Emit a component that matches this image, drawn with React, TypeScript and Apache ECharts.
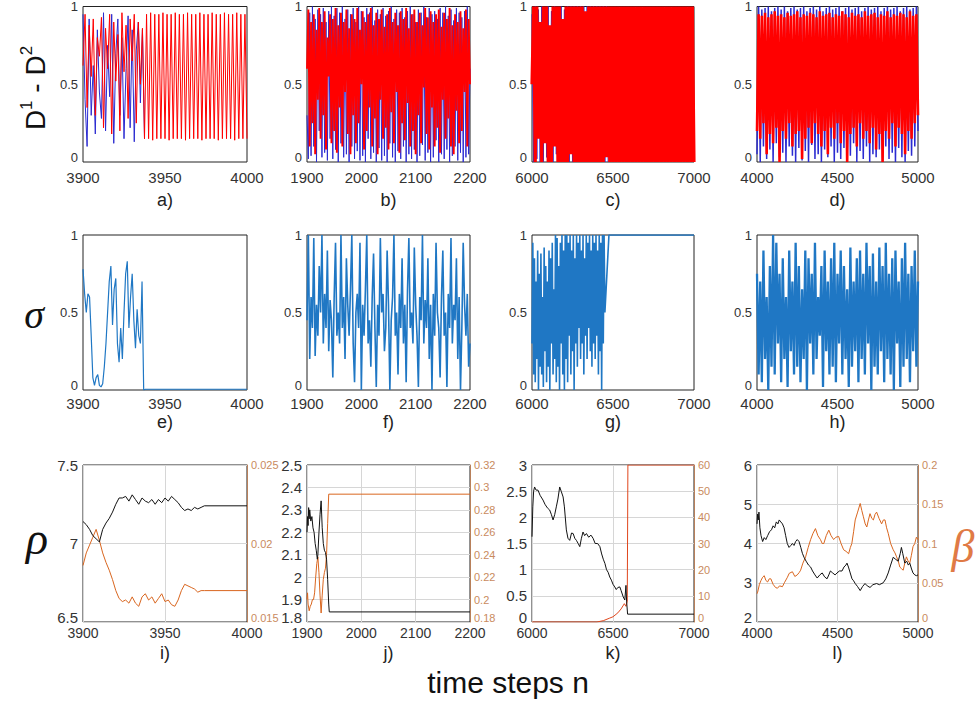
import React, { useEffect, useRef } from "react";
import * as echarts from "echarts";

// ---------- Row 1: D1 (blue) and D2 (red) ----------
// a) 3900..4000, sampled every 1.25 steps
const aBlue = [0.95,0.4,0.1,0.92,0.3,0.62,0.18,0.85,0.45,0.28,0.96,0.2,0.75,0.42,0.95,0.12,0.7,0.92,0.3,0.8,0.15,0.6,0.94,0.22,0.85,0.13,0.72,0.9,0.38,0.85,0.15];
const aRed = [0.62,0.95,0.35,0.88,0.55,0.92,0.3,0.8,0.68,0.93,0.22,0.86,0.6,0.95,0.18,0.9,0.52,0.82,0.2,0.96,0.58,0.88,0.28,0.92,0.65,0.95,0.25,0.9,0.5,0.86,
  0.15,0.95,0.15,0.96,0.14,0.95,0.15,0.95,0.15,0.96,0.15,0.95,0.14,0.95,0.15,0.96,0.15,0.95,0.15,0.95,
  0.14,0.96,0.15,0.95,0.15,0.95,0.15,0.96,0.14,0.95,0.15,0.95,0.15,0.96,0.15,0.95,0.14,0.95,0.15,0.96,
  0.15,0.95,0.15,0.95,0.14,0.96,0.15,0.95,0.15,0.95,0.15];
// b) 1900..2200, every 2.5 steps
const bBlue = [0.3,0.02,0.96,0.04,1.0,0.1,0.92,0.0,0.98,0.2,0.95,0.03,0.99,0.06,0.9,0.01,0.97,0.15,1.0,0.02,
  0.94,0.08,0.99,0.0,0.96,0.12,1.0,0.03,0.92,0.05,0.98,0.0,0.95,0.1,0.99,0.02,0.9,0.07,1.0,0.01,
  0.97,0.04,0.93,0.0,0.99,0.15,0.96,0.02,1.0,0.06,0.91,0.0,0.98,0.09,0.95,0.01,0.99,0.04,0.94,0.0,
  0.97,0.12,1.0,0.03,0.92,0.0,0.98,0.07,0.96,0.02,0.99,0.1,0.93,0.0,0.97,0.05,1.0,0.02,0.95,0.08,
  0.9,0.0,0.98,0.04,0.96,0.11,1.0,0.01,0.93,0.06,0.99,0.0,0.95,0.03,0.97,0.14,0.92,0.0,0.99,0.05,
  0.96,0.02,1.0,0.08,0.94,0.0,0.98,0.04,0.91,0.1,0.99,0.01,0.96,0.06,0.93,0.0,0.97,0.03,1.0,0.05,0.6];
const bRed = [0.6,0.98,0.1,0.9,0.25,0.95,0.05,0.85,0.4,0.99,0.15,0.9,0.3,0.97,0.08,0.8,0.55,0.95,0.12,0.92,
  0.2,0.99,0.06,0.88,0.35,0.96,0.1,0.9,0.45,0.98,0.18,0.86,0.05,0.95,0.3,0.92,0.12,0.99,0.25,0.85,
  0.5,0.97,0.08,0.9,0.2,0.95,0.35,0.99,0.1,0.88,0.28,0.96,0.05,0.92,0.4,0.98,0.15,0.87,0.22,0.95,
  0.08,0.99,0.32,0.9,0.12,0.96,0.45,0.88,0.06,0.97,0.25,0.92,0.14,0.99,0.38,0.86,0.1,0.95,0.2,0.98,
  0.05,0.9,0.3,0.96,0.12,0.88,0.48,0.99,0.18,0.93,0.08,0.97,0.35,0.9,0.1,0.95,0.22,0.98,0.06,0.87,
  0.4,0.96,0.15,0.92,0.28,0.99,0.1,0.88,0.05,0.95,0.33,0.9,0.12,0.97,0.2,0.86,0.45,0.98,0.1,0.92,0.5];
// c) 6000..7000, every 10 steps
const cBlue = [0.95,0,1,0.02,0.98,0,1,0,0.96,0.03,1,0,0.97,0,1,0.05,0.99,0,1,0,
  0.98,0,1,0,1,0,1,0,1,0,1,0,1,0,1,0,1,0,1,0,1,0,1,0,1,0,1,0];
const cRed = [0.5,1,0,1,0.15,0.9,0,1,0.12,1,0,0.88,0,1,0.1,1,0,1,0,0.92,
  0,1,0,1,0.05,1,0,1,0,1,0,1,0,0.97,0,1,0,1,0,1,
  0,1,0,1,0,1,0.03,1,0,1,0,1,0,1,0,1,0,1,0,1,
  0,1,0,1,0,1,0,1,0,1,0,1,0,1,0,1,0,1,0,1,
  0,1,0,1,0,1,0,1,0,1,0,1,0,1,0,1,0,1,0,1,0];
// d) 4000..5000, every 10 steps
const dBlue = [0.05,1.0,0.0,0.98,0.1,0.99,0.02,1.0,0.08,0.97,0.0,0.99,0.12,1.0,0.03,0.98,0.06,1.0,0.0,0.97,
  0.1,0.99,0.04,1.0,0.0,0.98,0.09,0.99,0.01,1.0,0.07,0.97,0.0,0.99,0.11,1.0,0.02,0.98,0.05,1.0,
  0.0,0.97,0.08,0.99,0.03,1.0,0.1,0.98,0.0,0.99,0.06,1.0,0.02,0.97,0.09,0.99,0.0,1.0,0.04,0.98,
  0.12,0.99,0.0,1.0,0.07,0.97,0.02,0.99,0.1,1.0,0.0,0.98,0.05,0.99,0.03,1.0,0.08,0.97,0.0,0.99,
  0.1,1.0,0.02,0.98,0.06,0.99,0.0,1.0,0.09,0.97,0.03,0.99,0.0,1.0,0.07,0.98,0.04,0.99,0.1,1.0,0.2];
const dRed = [0.2,0.95,0.15,0.94,0.25,0.96,0.05,0.93,0.18,0.95,0.12,0.97,0.22,0.94,0.0,0.95,0.2,0.93,0.15,0.96,
  0.25,0.94,0.1,0.95,0.18,0.97,0.2,0.93,0.02,0.95,0.15,0.94,0.22,0.96,0.12,0.95,0.25,0.93,0.18,0.97,
  0.1,0.94,0.2,0.95,0.05,0.96,0.22,0.93,0.15,0.95,0.25,0.94,0.12,0.97,0.2,0.95,0.0,0.93,0.18,0.96,
  0.22,0.94,0.1,0.95,0.25,0.93,0.15,0.97,0.2,0.94,0.12,0.95,0.22,0.96,0.08,0.93,0.18,0.95,0.0,0.94,
  0.2,0.97,0.15,0.93,0.25,0.95,0.1,0.94,0.22,0.96,0.18,0.95,0.05,0.93,0.2,0.97,0.15,0.94,0.25,0.95,0.3];

// ---------- Row 2: sigma ----------
const eSigma = [0.78,0.62,0.5,0.62,0.6,0.35,0.08,0.03,0.08,0.1,0.03,0.02,0.04,0.15,0.3,0.5,0.7,0.8,0.42,0.65,
  0.72,0.3,0.18,0.4,0.2,0.5,0.75,0.83,0.4,0.6,0.75,0.45,0.27,0.52,0.35,0.3,0.7,0.0,0.005];
const eTailX = [4000];
const eTailY = [0.005];
const fSigma = [0.45,1.0,0.2,0.6,0.4,0.98,0.22,0.55,0.35,0.8,0.5,1.0,0.3,0.62,0.4,0.9,0.25,0.58,0.45,0.08,
  0.6,0.95,0.35,0.5,0.3,1.0,0.4,0.6,0.2,0.85,0.55,0.35,0.65,1.0,0.3,0.05,0.5,0.62,0.4,0.95,
  0.0,0.55,0.35,0.65,1.0,0.3,0.45,0.15,0.6,0.88,0.4,0.02,0.55,0.35,0.98,0.5,0.62,0.25,0.4,0.9,
  0.55,0.0,0.45,0.6,1.0,0.35,0.5,0.1,0.62,0.4,0.85,0.3,0.55,0.05,0.65,0.98,0.4,0.5,0.3,0.92,
  0.55,0.35,0.02,0.6,0.45,1.0,0.3,0.58,0.4,0.85,0.2,0.55,0.0,0.62,0.35,0.95,0.5,0.4,0.08,0.6,
  0.9,0.35,0.5,0.02,0.62,0.4,0.98,0.3,0.55,0.45,0.85,0.2,0.6,0.0,0.4,0.95,0.55,0.35,0.62,0.15,0.3];
const gSigma = [0.3,0.95,0.1,0.85,0.05,0.7,0.2,0.9,0.0,0.75,0.15,0.88,0.1,0.6,0.02,0.92,0.25,0.8,0.05,0.7,
  0.15,0.9,0.0,0.85,0.3,0.95,0.1,0.65,0.2,1.0,0.05,0.98,0.15,0.8,0.0,0.95,0.3,1.0,0.1,0.9,
  0.0,1.0,0.2,1.0,0.05,0.95,0.35,1.0,0.1,0.9,0.25,1.0,0.0,0.85,0.3,1.0,0.15,0.95,0.4,1.0,
  0.2,0.9,0.3,1.0,0.1,0.85,0.35,1.0,0.2,0.95,0.4,1.0,0.25,0.9,0.15,1.0,0.3,0.95,0.2,1.0,
  0.35,0.9,0.1,1.0,0.25,0.95,0.0,1.0,0.3,1.0,0.5];
const gTailX = [6475, 7000];
const gTailY = [1.0, 1.0];
const hSigma = [0.75,0.1,0.7,0.05,0.9,0.2,0.6,0.0,0.8,0.15,1.0,0.1,0.95,0.3,0.75,0.05,0.85,0.2,0.6,0.02,
  0.9,0.25,0.7,0.1,0.95,0.15,0.8,0.05,0.65,0.2,0.9,0.0,0.85,0.3,0.75,0.1,0.95,0.2,0.6,0.35,
  0.8,0.02,0.9,0.25,0.7,0.1,0.85,0.15,0.95,0.05,0.75,0.3,0.9,0.1,0.8,0.2,0.65,0.02,0.92,0.15,
  0.7,0.25,0.85,0.05,0.9,0.2,0.75,0.1,0.95,0.3,0.8,0.0,0.88,0.15,0.7,0.1,0.92,0.25,0.8,0.05,
  0.95,0.2,0.75,0.1,0.85,0.0,0.9,0.3,0.7,0.02,0.85,0.15,0.95,0.2,0.75,0.05,0.8,0.25,0.9,0.15,0.7];

// ---------- Row 3: rho (black, left) and beta (orange, right) ----------
const iX = [3900,3902,3904,3906,3908,3910,3912,3914,3916,3918,3920,3922,3924,3926,3928,3930,3932,3934,3936,3938,3940,3942,3944,3946,3948,3950,3952,3954,3956,3958,3960,3962,3964,3966,3968,3970,3972,3974,4000];
const iRho = [7.14,7.12,7.09,7.05,7.03,7.01,7.09,7.13,7.16,7.2,7.25,7.29,7.29,7.3,7.27,7.31,7.28,7.25,7.29,7.27,7.26,7.28,7.25,7.28,7.26,7.29,7.27,7.3,7.28,7.26,7.23,7.21,7.22,7.21,7.23,7.22,7.23,7.24,7.24];
const iBeta = [0.0186,0.0194,0.0199,0.0204,0.0209,0.0202,0.0194,0.0188,0.0183,0.0177,0.017,0.0165,0.0163,0.0164,0.0162,0.0166,0.0162,0.016,0.0166,0.0168,0.0164,0.0166,0.0162,0.0165,0.0168,0.0163,0.0164,0.0161,0.016,0.0164,0.017,0.0174,0.0173,0.0172,0.0171,0.0169,0.017,0.017,0.017];

const jX = [1900,1901,1902,1903,1904,1905,1907,1909,1911,1913,1915,1917,1919,1920,1922,1924,1926,1928,1930,1932,1934,1936,1938,1940,1941,2200];
const jRho = [2.2,2.27,2.23,2.31,2.26,2.3,2.25,2.27,2.22,2.2,2.15,2.12,2.08,2.1,2.2,2.28,2.34,2.22,2.15,2.12,2.11,2.08,1.99,1.88,1.845,1.845];
const jBX = [1900,1901,1902,1904,1906,1908,1910,1912,1914,1916,1918,1920,1922,1924,1926,1928,1930,1932,1934,1936,1938,1940,2200];
const jBeta = [0.2,0.206,0.196,0.19,0.194,0.196,0.2,0.2,0.206,0.22,0.232,0.238,0.224,0.204,0.188,0.204,0.218,0.224,0.228,0.24,0.268,0.294,0.294];

const kX = [6000,6005,6010,6016,6025,6037,6050,6068,6080,6095,6109,6120,6130,6140,6150,6160,6171,6180,6192,6200,6212,6222,6233,6244,6254,6264,6274,6285,6295,6305,6315,6325,6336,6350,6364,6377,6390,6405,6419,6430,6440,6450,6460,6470,6480,6490,6500,6511,6520,6530,6542,6550,6563,6573,6580,6584,6590,7000];
const kRho = [1.63,2.2,2.5,2.58,2.52,2.52,2.42,2.33,2.25,2.18,2.14,2.05,1.95,2.05,2.2,2.35,2.58,2.5,2.39,2.2,1.76,1.6,1.56,1.7,1.69,1.6,1.56,1.5,1.44,1.6,1.72,1.65,1.69,1.62,1.66,1.6,1.5,1.5,1.44,1.3,1.2,1.12,1.0,0.95,0.86,0.8,0.72,0.67,0.62,0.66,0.67,0.6,0.48,0.42,0.7,0.4,0.15,0.15];
const kBX = [6000,6400,6440,6480,6500,6530,6550,6570,6580,6588,6592,7000];
const kBeta = [0,0,0.5,1.5,2,3.5,5,7,6,8,60,60];

const lX = [4000,4004,4008,4012,4018,4025,4035,4045,4055,4066,4078,4090,4100,4110,4120,4130,4138,4148,4158,4168,4178,4188,4199,4210,4220,4230,4240,4250,4261,4272,4282,4292,4305,4320,4333,4345,4360,4374,4390,4405,4420,4435,4446,4456,4470,4485,4497,4512,4528,4540,4552,4559,4568,4579,4590,4600,4610,4625,4641,4655,4671,4685,4702,4720,4743,4760,4784,4800,4815,4830,4846,4860,4877,4890,4897,4905,4918,4930,4940,4949,4960,4969,4980,4990,5000];
const lRho = [4.5,4.75,4.6,4.8,4.4,4.2,4.05,4.15,4.1,4.2,4.3,4.35,4.45,4.4,4.55,4.5,4.6,4.55,4.5,4.4,4.2,4.0,3.9,3.95,4.0,3.95,4.05,4.1,4.05,3.9,3.75,3.65,3.55,3.45,3.4,3.3,3.2,3.12,3.2,3.25,3.15,3.1,3.2,3.3,3.25,3.2,3.25,3.3,3.3,3.4,3.45,3.5,3.4,3.25,3.1,3.05,2.98,2.9,2.8,2.9,2.98,2.92,2.88,2.95,2.98,2.95,3.0,3.1,3.25,3.45,3.65,3.6,3.55,3.75,3.9,3.75,3.5,3.55,3.45,3.5,3.35,3.25,3.2,3.18,3.2];
const lBX = [4000,4004,4015,4025,4035,4045,4055,4066,4076,4086,4100,4115,4127,4140,4158,4170,4189,4200,4220,4235,4250,4262,4271,4285,4302,4318,4333,4348,4363,4378,4394,4405,4415,4430,4446,4460,4476,4490,4507,4522,4538,4553,4569,4580,4589,4600,4610,4625,4641,4651,4661,4672,4682,4692,4702,4713,4723,4733,4743,4758,4774,4785,4795,4805,4815,4830,4846,4857,4867,4877,4887,4897,4908,4918,4928,4938,4949,4959,4969,4980,4990,5000];
const lBeta = [0.036,0.038,0.048,0.053,0.057,0.059,0.053,0.051,0.055,0.055,0.048,0.044,0.043,0.046,0.045,0.05,0.057,0.062,0.064,0.058,0.06,0.063,0.066,0.075,0.083,0.095,0.105,0.113,0.119,0.11,0.105,0.1,0.1,0.11,0.117,0.11,0.105,0.108,0.109,0.1,0.092,0.09,0.087,0.095,0.1,0.115,0.13,0.14,0.151,0.142,0.134,0.125,0.121,0.13,0.138,0.132,0.13,0.137,0.14,0.132,0.125,0.13,0.13,0.12,0.113,0.1,0.092,0.088,0.083,0.078,0.07,0.068,0.066,0.075,0.083,0.078,0.075,0.085,0.096,0.1,0.108,0.105];

// ---------- Axes ----------
const X_RANGES = [[3900, 4000, 50], [1900, 2200, 100], [6000, 7000, 500], [4000, 5000, 500]];
const RHO_RANGES = [[6.5, 7.5, 0.5], [1.8, 2.5, 0.1], [0, 3, 0.5], [2, 6, 1]];
const BETA_RANGES = [[0.015, 0.025, 0.005], [0.18, 0.32, 0.02], [0, 60, 10], [0, 0.2, 0.05]];
const PANEL_LABELS = ["a)", "b)", "c)", "d)", "e)", "f)", "g)", "h)", "i)", "j)", "k)", "l)"];

const COLS = [{ left: 83, width: 164 }, { left: 307, width: 163 }, { left: 532, width: 162 }, { left: 757, width: 161 }];
const ROWS = [{ top: 5, height: 157 }, { top: 235, height: 155 }, { top: 465, height: 157 }];
const LABEL_Y = [200, 422, 653];
const X_LABEL_MARGIN = [8, 6, 4];

const BLUE = "#2b2bd1";
const RED = "#ff0000";
const SIGMA = "#1f77c4";
const BLACK = "#111111";
const ORANGE = "#d9661f";
const FONT = "Liberation Sans, Arial, sans-serif";

const seq = (start: number, step: number, ys: number[]) => ys.map((y, i) => [start + i * step, y]);
const zip = (xs: number[], ys: number[]) => xs.map((x, i) => [x, ys[i]]);
const fmt = (v: number) => String(Math.round(v * 10000) / 10000);
// the lowest tick label sits a little above the axis corner, as in the reference
const fmtLow = (min: number) => (v: number) => (Math.abs(v - min) < 1e-9 ? `{lo|${fmt(v)}}` : fmt(v));

function line(axis: number, yAxis: number, data: number[][], color: string, width = 1) {
  return {
    type: "line", xAxisIndex: axis, yAxisIndex: yAxis, data,
    showSymbol: false, symbol: "none", silent: true, animation: false,
    lineStyle: { color, width }, itemStyle: { color },
  };
}

function buildOption() {
  const grid: any[] = [];
  const xAxis: any[] = [];
  const yAxis: any[] = [];
  for (let r = 0; r < 3; r++) {
    for (let c = 0; c < 4; c++) {
      const gi = r * 4 + c;
      grid.push({
        left: COLS[c].left, width: COLS[c].width, top: ROWS[r].top, height: ROWS[r].height,
        show: true, borderColor: "#222", borderWidth: 1, backgroundColor: "#fff",
      });
      const [xmin, xmax, xint] = X_RANGES[c];
      xAxis.push({
        type: "value", gridIndex: gi, min: xmin, max: xmax, interval: xint,
        axisLine: { show: false }, axisTick: { show: false },
        splitLine: { show: r === 2, lineStyle: { color: "#d6d6d6", width: 1 } },
        axisLabel: { fontSize: r === 2 ? 14 : 15, color: "#333", margin: X_LABEL_MARGIN[r], fontFamily: FONT, formatter: (v: number) => String(v) },
      });
      const [ymin, ymax, yint] = r < 2 ? [0, 1, 0.5] : RHO_RANGES[c];
      yAxis.push({
        type: "value", gridIndex: gi, min: ymin, max: ymax, interval: yint, position: "left",
        axisLine: { show: false }, axisTick: { show: false },
        splitLine: { show: r === 2, lineStyle: { color: "#d6d6d6", width: 1 } },
        axisLabel: {
          fontSize: r < 2 ? 13 : 15, color: "#333", margin: 5, fontFamily: FONT, formatter: fmtLow(ymin),
          rich: { lo: { fontSize: r < 2 ? 13 : 15, color: "#333", fontFamily: FONT, padding: [0, 0, 9, 0] } },
        },
      });
    }
  }
  for (let c = 0; c < 4; c++) {
    const [bmin, bmax, bint] = BETA_RANGES[c];
    yAxis.push({
      type: "value", gridIndex: 8 + c, min: bmin, max: bmax, interval: bint, position: "right",
      axisLine: { show: true, lineStyle: { color: "#b8805a", width: 1 } }, axisTick: { show: false },
      splitLine: { show: false },
      axisLabel: {
        fontSize: 11, color: "#c98a5e", margin: 4, fontFamily: FONT, formatter: fmtLow(bmin),
        rich: { lo: { fontSize: 11, color: "#c98a5e", fontFamily: FONT, padding: [0, 0, 8, 0] } },
      },
    });
  }

  const series: any[] = [
    line(0, 0, seq(3900, 1.25, aBlue), BLUE), line(0, 0, seq(3900, 1.25, aRed), RED),
    line(1, 1, seq(1900, 2.5, bBlue), BLUE), line(1, 1, seq(1900, 2.5, bRed), RED, 1.9),
    line(2, 2, seq(6000, 10, cBlue), BLUE, 1), line(2, 2, seq(6000, 10, cRed), RED, 3.2),
    line(3, 3, seq(4000, 10, dBlue), BLUE, 1.5), line(3, 3, seq(4000, 10, dRed), RED, 2.6),
    line(4, 4, seq(3900, 1, eSigma).concat(zip(eTailX, eTailY)), SIGMA, 1.2),
    line(5, 5, seq(1900, 2.5, fSigma), SIGMA, 1.6),
    line(6, 6, seq(6000, 5, gSigma).concat(zip(gTailX, gTailY)), SIGMA, 1.6),
    line(7, 7, seq(4000, 10, hSigma), SIGMA, 2.3),
    line(8, 12, zip(iX, iBeta), ORANGE), line(8, 8, zip(iX, iRho), BLACK),
    line(9, 13, zip(jBX, jBeta), ORANGE), line(9, 9, zip(jX, jRho), BLACK),
    line(10, 14, zip(kBX, kBeta), "#e0461c"), line(10, 10, zip(kX, kRho), BLACK),
    line(11, 15, zip(lBX, lBeta), ORANGE), line(11, 11, zip(lX, lRho), BLACK),
  ];

  const graphic: any[] = [];
  for (let r = 0; r < 3; r++) {
    for (let c = 0; c < 4; c++) {
      graphic.push({
        type: "text", x: COLS[c].left + COLS[c].width / 2, y: LABEL_Y[r], silent: true,
        style: { text: PANEL_LABELS[r * 4 + c], fontSize: 18, fontFamily: FONT, fill: "#222", align: "center", verticalAlign: "middle" },
      });
    }
  }
  graphic.push({
    type: "text", x: 35, y: 88, rotation: Math.PI / 2, silent: true,
    style: {
      text: "{b|D}{s|1}{b| - D}{s|2}", align: "center", verticalAlign: "middle",
      rich: {
        b: { fontSize: 28, fontFamily: FONT, fill: "#111", lineHeight: 34 },
        s: { fontSize: 17, fontFamily: FONT, fill: "#111", verticalAlign: "top" },
      },
    },
  });
  graphic.push({
    type: "text", x: 34, y: 314, silent: true,
    style: { text: "σ", fontSize: 40, fontStyle: "italic", fontFamily: "Liberation Serif, DejaVu Serif, serif", fill: "#111", align: "center", verticalAlign: "middle" },
  });
  graphic.push({
    type: "text", x: 37, y: 538, silent: true,
    style: { text: "ρ", fontSize: 46, fontStyle: "italic", fontFamily: "Liberation Serif, DejaVu Serif, serif", fill: "#111", align: "center", verticalAlign: "middle" },
  });
  graphic.push({
    type: "text", x: 963, y: 546, silent: true,
    style: { text: "β", fontSize: 46, fontStyle: "italic", fontFamily: "Liberation Serif, DejaVu Serif, serif", fill: "#e07a45", align: "center", verticalAlign: "middle" },
  });
  graphic.push({
    type: "text", x: 508, y: 682, silent: true,
    style: { text: "time steps n", fontSize: 30, fontFamily: FONT, fill: "#111", align: "center", verticalAlign: "middle" },
  });

  return {
    animation: false,
    backgroundColor: "#fff",
    textStyle: { fontFamily: FONT },
    grid, xAxis, yAxis, series, graphic,
  };
}

export default function App() {
  const ref = useRef<HTMLDivElement>(null);
  useEffect(() => {
    if (!ref.current) return;
    const chart = echarts.init(ref.current, null, { renderer: "svg" });
    chart.setOption(buildOption() as any);
    return () => chart.dispose();
  }, []);
  return <div ref={ref} style={{ position: "fixed", left: 0, top: 0, width: 979, height: 702, background: "#fff" }} />;
}
